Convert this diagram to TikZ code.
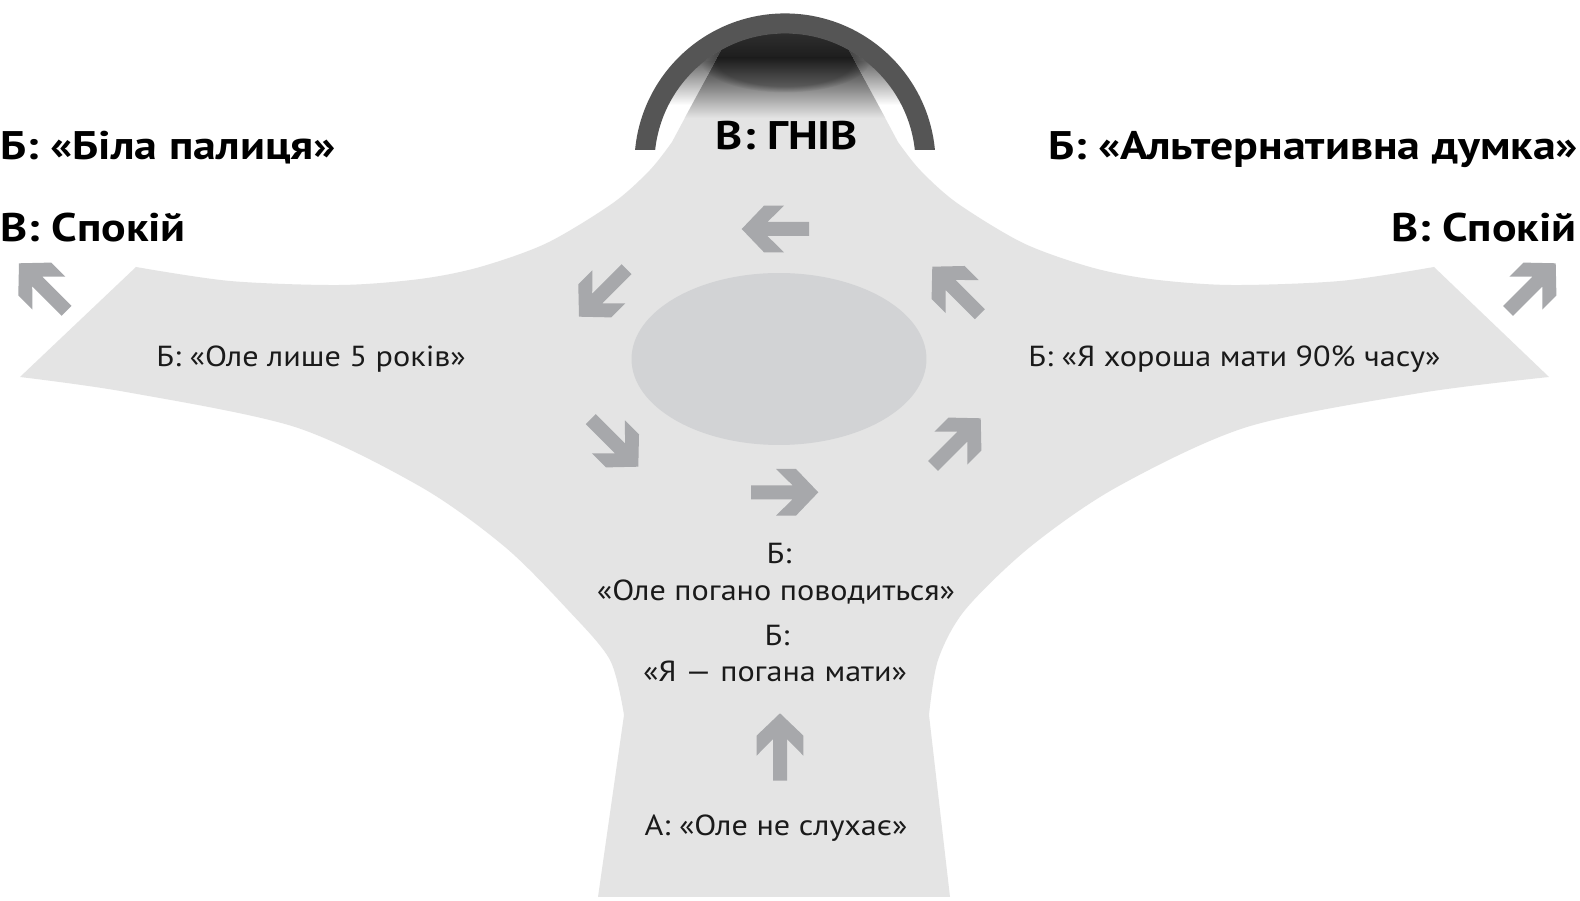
\documentclass[tikz,border=0pt]{standalone}
\usepackage{fontspec}
\setmainfont{PT Sans}
\newfontfamily\bigfam{PT Sans}[FakeStretch=1.15]
\newfontfamily\smallfam{PT Sans}[FakeStretch=1.11]
\usetikzlibrary{fadings}
\definecolor{shapegray}{HTML}{E4E4E4}
\definecolor{ovalgray}{HTML}{D2D3D5}
\definecolor{arrowgray}{HTML}{A7A8AB}
\definecolor{ringgray}{HTML}{555555}
\definecolor{darkA}{HTML}{505050}
\definecolor{darkB}{HTML}{6C6C6C}
\definecolor{darkC}{HTML}{2A2A2A}
\definecolor{textblack}{HTML}{1A1A1A}
\tikzset{
 barrow/.pic={\fill[arrowgray] (0,0) -- (-22.3,23.3) -- (-42.3,23.3) -- (-25.7,7) -- (-67.3,7) -- (-67.3,-7) -- (-25.7,-7) -- (-42.3,-23.3) -- (-22.3,-23.3) -- cycle;},
 bigtext/.style={font=\bigfam\bfseries\fontsize{22.7}{27}\selectfont, inner sep=0pt},
 smalltext/.style={font=\smallfam\fontsize{16.5}{19}\selectfont, text=textblack, inner sep=0pt, anchor=base},
}
\def\mainshapepath{(20,377) -- (136,267)
 -- plot[smooth] coordinates {(136,267) (230,281) (340,285) (420,279) (480,267) (547,243) (613,203) (650,170) (672,142)}
 -- (733,28) -- (837,28) -- (898,142)
 -- plot[smooth] coordinates {(898,142) (920,170) (957,203) (1023,243) (1090,267) (1150,279) (1230,285) (1340,281) (1434,267)}
 -- (1549,377)
 -- plot[smooth] coordinates {(1549,377) (1420,393) (1247,427) (1117,487) (1030,547) (965,610) (938,660) (929,715)}
 -- (950,897) -- (598,897) -- (624,715)
 -- plot[smooth] coordinates {(624,715) (610,660) (568,610) (505,547) (421,487) (295,427) (126,392) (20,377)}
 -- cycle}
\begin{document}
\begin{tikzpicture}[x=0.02cm,y=-0.02cm]
\useasboundingbox[fill=white] (0,0) rectangle (1580,901);
% inside of the arc
\begin{scope}
 \clip (785,164) circle[radius=2.62cm];
 \clip (600,0) rectangle (970,150);
 \shade[top color=darkA, bottom color=darkB] (600,10) rectangle (970,62);
 \shade[top color=darkB, bottom color=white] (600,62) rectangle (970,105);
 \fill[white] (600,105) rectangle (970,150);
\end{scope}
% main shape
\fill[shapegray] \mainshapepath;
\begin{scope}
 \clip \mainshapepath;
 \clip (785,164) circle[radius=2.62cm];
 \shade[top color=darkA, bottom color=darkC] (600,20) rectangle (970,58);
 \shade[top color=darkC, bottom color=shapegray] (600,58) rectangle (970,118);
\end{scope}
\begin{scope}
 \clip (785,164) circle[radius=2.62cm];
 \fill[black, opacity=0.3, path fading=circle with fuzzy edge 20 percent] (785,60) ellipse [x radius=1.7cm, y radius=0.65cm];
\end{scope}
% ring
\begin{scope}
 \clip (600,0) rectangle (970,150);
 \fill[ringgray, even odd rule] (785,164) circle[radius=3.012cm] (785,164) circle[radius=2.612cm];
\end{scope}
% oval
\fill[ovalgray] (779,359) ellipse [x radius=2.95cm, y radius=1.72cm];
% arrows
\pic[rotate=180] at (741.7,229) {barrow};
\pic[rotate=225] at (579,316.7) {barrow};
\pic[rotate=-45] at (638.3,466.7) {barrow};
\pic at (818.3,492.3) {barrow};
\pic[rotate=45] at (980.7,418.3) {barrow};
\pic[rotate=135] at (932.3,266.7) {barrow};
\pic[rotate=135] at (19,263.3) {barrow};
\pic[rotate=45] at (1555.7,263.3) {barrow};
\pic[rotate=90] at (780,713.3) {barrow};
% texts
\node[bigtext, anchor=base] (anger) at (787,150) {В: ГНІВ};
\node[bigtext, anchor=base west] (stickL) at (0,160) {Б: «Біла палиця»};
\node[bigtext, anchor=base west] (calmL) at (0,242) {В: Спокій};
\node[bigtext, anchor=base west] (altR) at (1048,160) {Б: «Альтернативна думка»};
\node[bigtext, anchor=base east] (calmR) at (1577,242) {В: Спокій};
\node[smalltext, anchor=base west] (t1) at (156,367) {Б: «Оле лише 5 років»};
\node[smalltext, anchor=base west] (t2) at (1028,367) {Б: «Я хороша мати 90\% часу»};
\node[smalltext] (t3) at (779,564) {Б:};
\node[smalltext] (t4) at (776,601) {«Оле погано поводиться»};
\node[smalltext] (t5) at (777,646) {Б:};
\node[smalltext] (t6) at (775,682) {«Я — погана мати»};
\node[smalltext] (t7) at (776,836) {А: «Оле не слухає»};
\end{tikzpicture}
\end{document}
